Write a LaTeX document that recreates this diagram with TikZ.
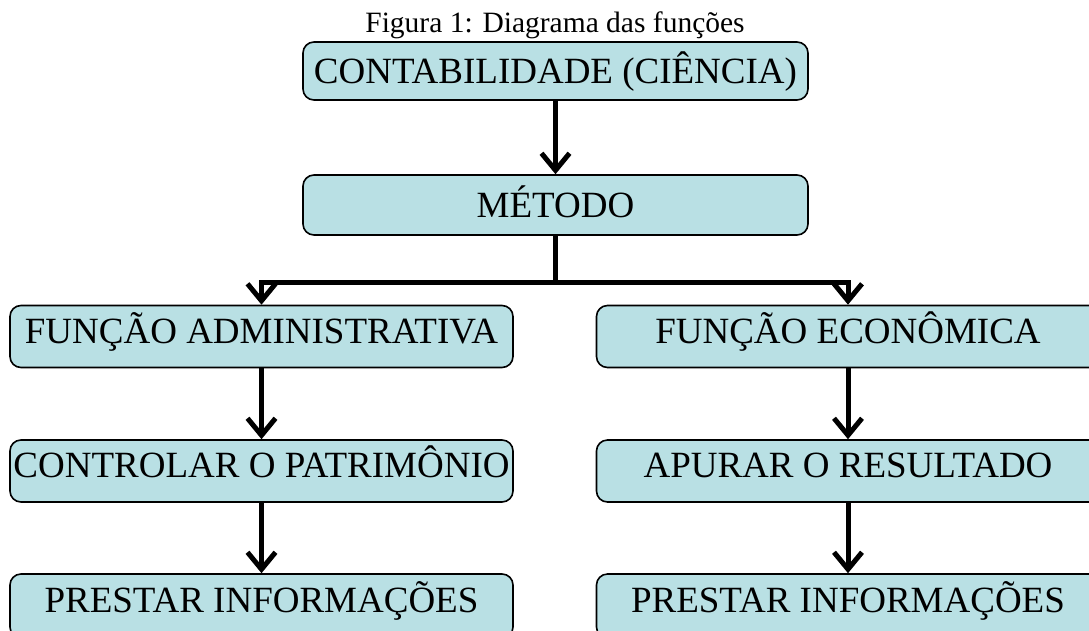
\documentclass[tikz,border=0pt]{standalone}
\usepackage{fontspec}
\setmainfont{Liberation Serif}
\usepackage{tikz}
\usetikzlibrary{positioning,calc,arrows.meta}

\definecolor{boxfill}{RGB}{185,224,228}

\begin{document}
\begin{tikzpicture}[x=1pt,y=-1pt,
    box/.style={draw=black, line width=1.6pt, fill=boxfill, rounded corners=11pt,
        minimum width=503pt, minimum height=62pt, inner sep=0pt,
        font=\fontsize{37}{41}\selectfont, text height=24.5pt, text depth=11pt},
    conn/.style={line width=5pt},
    arr/.style={line width=5pt, -{Straight Barb[length=17pt,width=28pt]}}]
    \useasboundingbox (0,0) rectangle (1089,630);
    \clip (0,0) rectangle (1089,630);

    % Title
    \node[anchor=base, font=\fontsize{29.5}{32}\selectfont] (title) at (555,32) {Figura 1: Diagrama das funções};

    % Top
    \node[box, minimum width=505pt, minimum height=58pt, text depth=0pt] (cont) at (555.5,71) {CONTABILIDADE (CIÊNCIA)};
    \node[box, minimum width=505pt, minimum height=60pt, text depth=0pt] (met) at (555.5,205) {MÉTODO};

    % Left column
    \node[box] (fadm) at (261.5,336.5) {FUNÇÃO ADMINISTRATIVA};
    \node[box] (ctrl) at (261.5,471) {CONTROLAR O PATRIMÔNIO};
    \node[box, minimum height=64pt] (pinfa) at (261.5,606) {PRESTAR INFORMAÇÕES};

    % Right column
    \node[box] (feco) at (848,336.5) {FUNÇÃO ECONÔMICA};
    \node[box] (apur) at (848,471) {APURAR O RESULTADO};
    \node[box, minimum height=64pt] (pinfe) at (848,606) {PRESTAR INFORMAÇÕES};

    % Connectors
    \draw[arr] (cont) -- (met);
    \draw[conn] (met.south) -- (555.5,282) coordinate (split);
    \draw[arr] (split) -| (fadm.north);
    \draw[arr] (split) -| (feco.north);
    \draw[arr] (fadm) -- (ctrl);
    \draw[arr] (ctrl) -- (pinfa);
    \draw[arr] (feco) -- (apur);
    \draw[arr] (apur) -- (pinfe);
\end{tikzpicture}
\end{document}
